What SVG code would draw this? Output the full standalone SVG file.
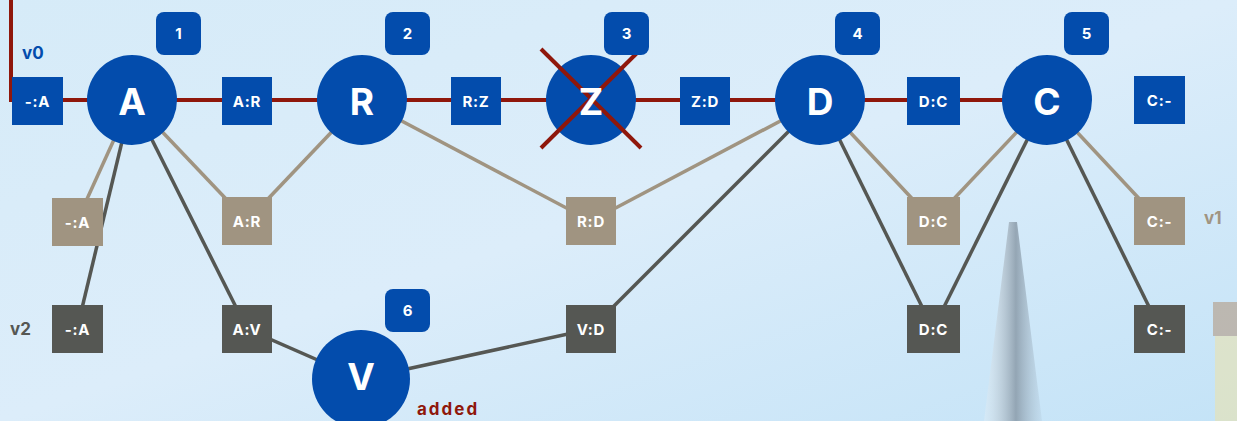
<svg xmlns="http://www.w3.org/2000/svg" width="1237" height="421" viewBox="0 0 1237 421">
<defs>
<linearGradient id="sky" x1="0" y1="0" x2="1" y2="1">
<stop offset="0" stop-color="#d6ebf8"/>
<stop offset="0.5" stop-color="#dcedfa"/>
<stop offset="1" stop-color="#c4e3f7"/>
</linearGradient>
<linearGradient id="spire" x1="0" y1="0" x2="1" y2="0">
<stop offset="0" stop-color="#eef3f6" stop-opacity="0.3"/>
<stop offset="0.55" stop-color="#8595a3" stop-opacity="0.8"/>
<stop offset="1" stop-color="#a9bccb" stop-opacity="0.2"/>
</linearGradient>
<style>
.cir{fill:#034cac}
.big{font-family:Inter,"Noto Sans",sans-serif;font-weight:700;font-size:37px;fill:#fff;text-anchor:middle;dominant-baseline:central}
.badge{fill:#034cac}
.bt{font-family:Inter,"Noto Sans",sans-serif;font-weight:700;font-size:15px;fill:#fff;text-anchor:middle;dominant-baseline:central}
.sq0{fill:#034cac}
.sq1{fill:#a09481}
.sq2{fill:#555753}
.st{font-family:Inter,"Noto Sans",sans-serif;font-weight:700;font-size:15px;letter-spacing:0.8px;fill:#fff;text-anchor:middle;dominant-baseline:central}
.tan{stroke:#a09481;stroke-width:3.5;fill:none}
.dark{stroke:#555753;stroke-width:3.5;fill:none}
.red{stroke:#8f170b;stroke-width:4;fill:none}
.lbl{font-family:Inter,"Noto Sans",sans-serif;font-weight:700;font-size:17px}
</style>
</defs>
<rect x="0" y="0" width="1237" height="421" fill="url(#sky)"/>
<g id="background">
<polygon points="1009,222 1017,222 1042,421 984,421" fill="url(#spire)"/>
<rect x="1213" y="302" width="24" height="34" fill="#b09276" opacity="0.55"/>
<rect x="1215" y="336" width="22" height="85" fill="#ece1a8" opacity="0.55"/>
</g>
<g id="connectors">
<polyline class="red" points="11,0 11,100 1047,100"/>
<line class="tan" x1="132" y1="100" x2="77" y2="221"/>
<line class="dark" x1="132" y1="100" x2="77" y2="329"/>
<line class="tan" x1="132" y1="100" x2="247" y2="221"/>
<line class="dark" x1="132" y1="100" x2="247" y2="329"/>
<line class="tan" x1="362" y1="100" x2="247" y2="221"/>
<line class="tan" x1="362" y1="100" x2="591" y2="221"/>
<line class="tan" x1="820" y1="100" x2="591" y2="221"/>
<line class="dark" x1="820" y1="100" x2="591" y2="329"/>
<line class="dark" x1="591" y1="329" x2="361" y2="379"/>
<line class="dark" x1="247" y1="329" x2="361" y2="379"/>
<line class="tan" x1="820" y1="100" x2="933" y2="221"/>
<line class="tan" x1="1047" y1="100" x2="933" y2="221"/>
<line class="dark" x1="820" y1="100" x2="933" y2="329"/>
<line class="dark" x1="1047" y1="100" x2="933" y2="329"/>
<line class="tan" x1="1047" y1="100" x2="1160" y2="221"/>
<line class="dark" x1="1047" y1="100" x2="1160" y2="329"/>
</g>
<g id="node-A"><circle class="cir" cx="132" cy="100" r="45"/><text class="big" x="132" y="101">A</text><rect class="badge" x="156" y="12" width="45" height="43" rx="8"/><text class="bt" x="178.5" y="33">1</text></g>
<g id="node-R"><circle class="cir" cx="362" cy="100" r="45"/><text class="big" x="362" y="101">R</text><rect class="badge" x="385" y="12" width="45" height="43" rx="8"/><text class="bt" x="407.5" y="33">2</text></g>
<g id="node-Z"><circle class="cir" cx="591" cy="100" r="45"/><line class="red" stroke-width="7.5" x1="541" y1="49" x2="641" y2="148"/><line class="red" stroke-width="7.5" x1="541" y1="148" x2="640" y2="50"/><text class="big" x="591" y="101">Z</text><rect class="badge" x="604" y="12" width="45" height="43" rx="8"/><text class="bt" x="626.5" y="33">3</text></g>
<g id="node-D"><circle class="cir" cx="820" cy="100" r="45"/><text class="big" x="820" y="101">D</text><rect class="badge" x="835" y="12" width="45" height="43" rx="8"/><text class="bt" x="857.5" y="33">4</text></g>
<g id="node-C"><circle class="cir" cx="1047" cy="100" r="45"/><text class="big" x="1047" y="101">C</text><rect class="badge" x="1064" y="12" width="45" height="43" rx="8"/><text class="bt" x="1086.5" y="33">5</text></g>
<g id="node-V"><circle class="cir" cx="361" cy="379" r="49"/><text class="big" x="361" y="376">V</text><rect class="badge" x="385" y="289" width="45" height="43" rx="8"/><text class="bt" x="407.5" y="310">6</text></g>
<g id="v0-row">
<g id="v0-sA"><rect class="sq0" x="12" y="77" width="51" height="48"/><text class="st" x="37.5" y="101">-:A</text></g>
<g id="v0-AR"><rect class="sq0" x="222" y="77" width="50" height="48"/><text class="st" x="247" y="101">A:R</text></g>
<g id="v0-RZ"><rect class="sq0" x="451" y="77" width="50" height="48"/><text class="st" x="476" y="101">R:Z</text></g>
<g id="v0-ZD"><rect class="sq0" x="680" y="77" width="50" height="48"/><text class="st" x="705" y="101">Z:D</text></g>
<g id="v0-DC"><rect class="sq0" x="907" y="77" width="53" height="48"/><text class="st" x="933.5" y="101">D:C</text></g>
<g id="v0-Cs"><rect class="sq0" x="1134" y="76" width="51" height="48"/><text class="st" x="1159.5" y="100">C:-</text></g>
</g>
<g id="v1-row">
<g id="v1-sA"><rect class="sq1" x="52" y="198" width="51" height="48"/><text class="st" x="77.5" y="222">-:A</text></g>
<g id="v1-AR"><rect class="sq1" x="222" y="197" width="50" height="48"/><text class="st" x="247" y="221">A:R</text></g>
<g id="v1-RD"><rect class="sq1" x="566" y="197" width="50" height="48"/><text class="st" x="591" y="221">R:D</text></g>
<g id="v1-DC"><rect class="sq1" x="907" y="197" width="53" height="48"/><text class="st" x="933.5" y="221">D:C</text></g>
<g id="v1-Cs"><rect class="sq1" x="1134" y="197" width="51" height="48"/><text class="st" x="1159.5" y="221">C:-</text></g>
</g>
<g id="v2-row">
<g id="v2-sA"><rect class="sq2" x="52" y="305" width="51" height="48"/><text class="st" x="77.5" y="329">-:A</text></g>
<g id="v2-AV"><rect class="sq2" x="222" y="305" width="50" height="48"/><text class="st" x="247" y="329">A:V</text></g>
<g id="v2-VD"><rect class="sq2" x="566" y="305" width="50" height="48"/><text class="st" x="591" y="329">V:D</text></g>
<g id="v2-DC"><rect class="sq2" x="907" y="305" width="53" height="48"/><text class="st" x="933.5" y="329">D:C</text></g>
<g id="v2-Cs"><rect class="sq2" x="1134" y="305" width="51" height="48"/><text class="st" x="1159.5" y="329">C:-</text></g>
</g>
<g id="labels">
<text class="lbl" x="22" y="59" fill="#034cac">v0</text>
<text class="lbl" x="1204" y="224" fill="#a09481">v1</text>
<text class="lbl" x="10" y="335" fill="#555753">v2</text>
<text class="lbl" x="417" y="415" fill="#8f170b" font-size="18" letter-spacing="2">added</text>
</g>
</svg>
